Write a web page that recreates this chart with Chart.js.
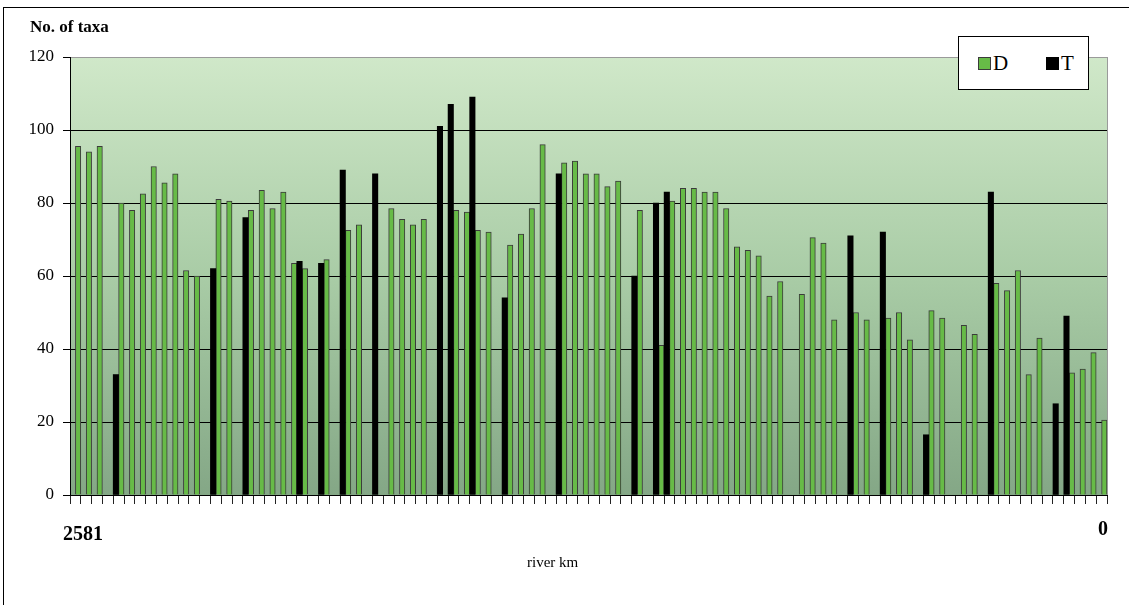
<!DOCTYPE html>
<html>
<head>
<meta charset="utf-8">
<script src="https://cdn.jsdelivr.net/npm/chart.js@4.4.1/dist/chart.umd.min.js"></script>
<style>
    body { margin: 0; background: #fff; width: 1129px; height: 605px; overflow: hidden; position: relative; font-family: "Liberation Serif", "Times New Roman", serif; color: #000; }
    #frame { position: absolute; left: 3px; top: 7px; width: 1200px; height: 700px; border-left: 1px solid #000; border-top: 1px solid #000; }
    #chart { position: absolute; left: 0; top: 0; }
    #yTitle { position: absolute; left: 30px; top: 17px; font-size: 17px; font-weight: bold; }
    #xTitle { position: absolute; left: 527px; top: 554px; font-size: 15px; }
    #legend { position: absolute; left: 958px; top: 36px; width: 131px; height: 54px; border: 1px solid #000; background: #fff; padding-left: 19px; box-sizing: border-box; display: flex; align-items: center; }
    .legend-item { display: flex; align-items: center; width: 68px; font-size: 21px; white-space: nowrap; }
    .legend-item:last-child { width: auto; }
    .legend-color { display: inline-block; width: 13px; height: 13px; margin-right: 2px; box-sizing: border-box; }
</style>
</head>
<body>
<div id="frame"></div>
<canvas id="chart" width="1129" height="605"></canvas>
<div id="yTitle">No. of taxa</div>
<div id="xTitle">river km</div>
<div id="legend"></div>
<script>
// 96 sampling sites along the river, from km 2581 down to km 0
const tickLabels = ['2581', ...Array(94).fill(''), '0'];

// D series (green)
const dValues = [
    95.5, 94, 95.5, null, 80, 78, 82.5, 90, 85.5, 88, 61.5, 60,
    null, 81, 80.5, null, 78, 83.5, 78.5, 83, 63.5, 62, null, 64.5,
    null, 72.5, 74, null, null, 78.5, 75.5, 74, 75.5, null, null, 78,
    77.5, 72.5, 72, null, 68.5, 71.5, 78.5, 96, null, 91, 91.5, 88,
    88, 84.5, 86, null, 78, null, 41, 80.5, 84, 84, 83, 83,
    78.5, 68, 67, 65.5, 54.5, 58.5, null, 55, 70.5, 69, 48, null,
    50, 48, null, 48.5, 50, 42.5, null, 50.5, 48.5, null, 46.5, 44,
    null, 58, 56, 61.5, 33, 43, null, null, 33.5, 34.5, 39, 20.5
];

// T series (black)
const tValues = [
    null, null, null, null, 33, null, null, null, null, null, null, null,
    null, 62, null, null, 76, null, null, null, null, 64, null, 63.5,
    null, 89, null, null, 88, null, null, null, null, null, 101, 107,
    null, 109, null, null, 54, null, null, null, null, 88, null, null,
    null, null, null, null, 60, null, 80, 83, null, null, null, null,
    null, null, null, null, null, null, null, null, null, null, null, null,
    71, null, null, 72, null, null, null, 16.5, null, null, null, null,
    null, 83, null, null, null, null, null, 25, 49, null, null, null
];

const yTicks = [0, 20, 40, 60, 80, 100, 120];

const serif = '"Liberation Serif", "Times New Roman", serif';

const plotDecor = {
    id: 'plotDecor',
    beforeDraw(chart) {
        const { ctx, chartArea: a } = chart;
        const g = ctx.createLinearGradient(0, a.top, 0, a.bottom);
        g.addColorStop(0, '#d0e8c9');
        g.addColorStop(0.5, '#a9cca6');
        g.addColorStop(1, '#84a786');
        ctx.save();
        ctx.fillStyle = g;
        ctx.fillRect(a.left, a.top, a.right - a.left, a.bottom - a.top);
        ctx.restore();
    },
    afterDraw(chart) {
        const { ctx, chartArea: a } = chart;
        const x = chart.scales.x;
        ctx.save();
        ctx.strokeStyle = '#9a9a9a';
        ctx.lineWidth = 1;
        ctx.beginPath();
        ctx.moveTo(a.right + 0.5, a.top);
        ctx.lineTo(a.right + 0.5, a.bottom);
        ctx.stroke();

        // end labels of the river km axis
        ctx.fillStyle = '#000';
        ctx.font = 'bold 20px ' + serif;
        ctx.textBaseline = 'middle';
        ctx.textAlign = 'left';
        ctx.fillText(tickLabels[0], x.left - 7, 535);
        ctx.textAlign = 'right';
        ctx.fillText(tickLabels[tickLabels.length - 1], x.right + 1, 530);
        ctx.restore();
    }
};

const chart = new Chart(document.getElementById('chart'), {
    type: 'bar',
    data: {
        labels: tickLabels,
        datasets: [
            {
                label: 'T',
                data: tValues,
                backgroundColor: '#000',
                borderWidth: 0,
                barPercentage: 1,
                categoryPercentage: 1
            },
            {
                label: 'D',
                data: dValues,
                backgroundColor: '#67bb47',
                borderColor: '#3b3b3b',
                borderWidth: 1,
                barPercentage: 1,
                categoryPercentage: 1
            }
        ]
    },
    options: {
        responsive: false,
        animation: false,
        layout: { padding: { left: 0, top: 57, right: 22, bottom: 0 } },
        plugins: {
            legend: { display: false },
            tooltip: { enabled: false }
        },
        scales: {
            x: {
                afterFit: s => { s.height = 110; },
                ticks: { display: false, autoSkip: false },
                grid: { display: true, drawOnChartArea: false, drawTicks: true, tickLength: 9, color: '#222', offset: true },
                border: { color: '#000', width: 1 }
            },
            y: {
                min: 0,
                max: 120,
                afterFit: s => { s.width = 70; },
                afterBuildTicks: s => { s.ticks = yTicks.map(v => ({ value: v })); },
                ticks: { color: '#000', padding: 9, font: { family: serif, size: 17 } },
                grid: {
                    color: c => c.tick && c.tick.value === 120 ? '#9a9a9a' : '#000',
                    tickColor: '#000',
                    tickLength: 7,
                    lineWidth: 1
                },
                border: { color: '#000', width: 1 }
            }
        }
    },
    plugins: [plotDecor]
});

// legend box, D first then T
document.getElementById('legend').innerHTML = chart.data.datasets.slice().reverse().map(ds =>
    `<span class="legend-item"><span class="legend-color" style="background:${ds.backgroundColor};${ds.borderWidth ? 'border:1px solid #3b3b3b;' : ''}"></span>${ds.label}</span>`
).join('');
</script>
</body>
</html>
